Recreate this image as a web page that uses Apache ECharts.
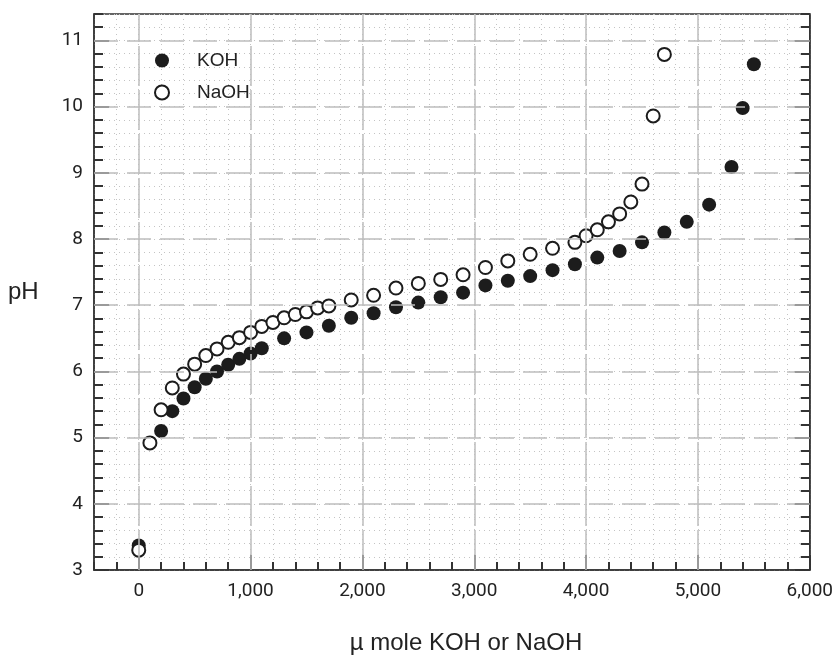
<!DOCTYPE html>
<html>
<head>
<meta charset="utf-8">
<script src="https://cdn.jsdelivr.net/npm/echarts@6/dist/echarts.min.js"></script>
<style>
html,body{margin:0;padding:0;background:#fff;}
#chart{width:836px;height:655px;}
</style>
</head>
<body>
<div id="chart"></div>
<script>
// ---- data ----
const kohX = [0, 200, 300, 400, 500, 600, 700, 800, 900, 1000, 1100, 1300, 1500, 1700, 1900, 2100, 2300, 2500, 2700, 2900, 3100, 3300, 3500, 3700, 3900, 4100, 4300, 4500, 4700, 4900, 5100, 5300, 5400, 5500];
const kohY = [3.37, 5.10, 5.40, 5.59, 5.76, 5.89, 6.00, 6.10, 6.19, 6.27, 6.35, 6.50, 6.59, 6.69, 6.81, 6.88, 6.97, 7.04, 7.12, 7.19, 7.30, 7.37, 7.44, 7.53, 7.62, 7.72, 7.82, 7.95, 8.10, 8.26, 8.52, 9.09, 9.98, 10.64];
const naohX = [0, 100, 200, 300, 400, 500, 600, 700, 800, 900, 1000, 1100, 1200, 1300, 1400, 1500, 1600, 1700, 1900, 2100, 2300, 2500, 2700, 2900, 3100, 3300, 3500, 3700, 3900, 4000, 4100, 4200, 4300, 4400, 4500, 4600, 4700];
const naohY = [3.30, 4.92, 5.42, 5.75, 5.96, 6.11, 6.24, 6.34, 6.44, 6.51, 6.59, 6.68, 6.74, 6.81, 6.86, 6.90, 6.96, 6.99, 7.08, 7.15, 7.26, 7.33, 7.39, 7.46, 7.57, 7.67, 7.77, 7.86, 7.95, 8.05, 8.14, 8.26, 8.38, 8.56, 8.83, 9.86, 10.79];
const xMajorTicks = [0, 1000, 2000, 3000, 4000, 5000, 6000];
const yMajorTicks = [3, 4, 5, 6, 7, 8, 9, 10, 11];
const seriesNames = ['KOH', 'NaOH'];
const xTitle = 'µ mole KOH or NaOH';
const yTitle = 'pH';

const zip = (xs, ys) => xs.map((x, i) => [x, ys[i]]);
const axisColor = '#333';
const fmtX = v => v.toLocaleString('en-US');

const chart = echarts.init(document.getElementById('chart'), null, {renderer: 'canvas'});

const minorSplit = {show: true, lineStyle: {color: '#c4c4c4', type: [1, 4], width: 1}};
const tickLab = {fontFamily: 'Roboto', fontSize: 19, color: '#222'};

chart.setOption({
  animation: false,
  backgroundColor: '#fff',
  grid: {left: 94, right: 23, top: 14, bottom: 85, show: true, borderColor: axisColor, borderWidth: 1.5, backgroundColor: 'transparent'},
  legend: {
    data: seriesNames, orient: 'vertical', left: 154, top: 51, padding: 0, itemGap: 13,
    itemWidth: 14, itemHeight: 14,
    textStyle: {fontFamily: 'Liberation Sans', fontSize: 19, color: '#222', padding: [0, 0, 0, 23], lineHeight: 19}
  },
  xAxis: [
    {type: 'value', min: -400, max: 6000, interval: 200, position: 'bottom',
     axisLine: {show: true, onZero: false, lineStyle: {color: axisColor, width: 1.5}},
     axisTick: {show: true, inside: true, length: 8, lineStyle: {color: axisColor, width: 2}},
     axisLabel: {show: false}, splitLine: minorSplit},
    {type: 'value', min: -400, max: 6000, position: 'bottom',
     axisLine: {show: false, onZero: false},
     axisTick: {show: true, inside: true, length: 15, customValues: xMajorTicks, lineStyle: {color: axisColor, width: 2}},
     axisLabel: Object.assign({show: true, margin: 12, customValues: xMajorTicks, formatter: fmtX}, tickLab),
     splitLine: {show: false}}
  ],
  yAxis: [
    {type: 'value', min: 3, max: 11.4, interval: 0.2, position: 'left',
     axisLine: {show: true, onZero: false, lineStyle: {color: axisColor, width: 1.5}},
     axisTick: {show: true, inside: true, length: 9, lineStyle: {color: axisColor, width: 2}},
     axisLabel: {show: false}, splitLine: minorSplit},
    {type: 'value', min: 3, max: 11.4, position: 'left',
     axisLine: {show: false, onZero: false},
     axisTick: {show: true, inside: true, length: 15, customValues: yMajorTicks, lineStyle: {color: axisColor, width: 2}},
     axisLabel: Object.assign({show: true, margin: 11, customValues: yMajorTicks}, tickLab),
     splitLine: {show: false}},
    {type: 'value', min: 3, max: 11.4, interval: 0.2, position: 'right',
     axisLine: {show: true, onZero: false, lineStyle: {color: axisColor, width: 1.5}},
     axisTick: {show: true, inside: true, length: 9, lineStyle: {color: axisColor, width: 2}},
     axisLabel: {show: false}, splitLine: {show: false}},
    {type: 'value', min: 3, max: 11.4, position: 'right',
     axisLine: {show: false, onZero: false},
     axisTick: {show: true, inside: true, length: 15, customValues: yMajorTicks, lineStyle: {color: axisColor, width: 2}},
     axisLabel: {show: false}, splitLine: {show: false}}
  ],
  graphic: [
    {type: 'text', left: 8, top: 280, style: {text: yTitle, fontFamily: 'Liberation Sans', fontSize: 24, fill: '#222'}},
    {type: 'text', x: 466, y: 643, style: {text: xTitle, fontFamily: 'Liberation Sans', fontSize: 24, fill: '#222', align: 'center', verticalAlign: 'middle'}}
  ],
  series: [
    {name: 'grid-major', type: 'scatter', data: [], xAxisIndex: 0, yAxisIndex: 0, z: 1, silent: true,
     markLine: {silent: true, symbol: 'none', label: {show: false}, animation: false,
       data: [
         ...xMajorTicks.slice(0, -1).map(v => ({xAxis: v, lineStyle: {color: '#bdbdbd', width: 1.5, type: [40, 4]}})),
         ...yMajorTicks.slice(1).map(v => ({yAxis: v, lineStyle: {color: '#bdbdbd', width: 1.5, type: [24, 9]}}))
       ]}},
    {name: 'KOH', type: 'scatter', xAxisIndex: 0, yAxisIndex: 0, z: 3, symbol: 'circle', symbolSize: 14,
     itemStyle: {color: '#1c1c1c', opacity: 1}, data: zip(kohX, kohY)},
    {name: 'NaOH', type: 'scatter', xAxisIndex: 0, yAxisIndex: 0, z: 4, symbol: 'circle', symbolSize: 13,
     itemStyle: {color: '#ffffff', borderColor: '#1c1c1c', borderWidth: 2, opacity: 1}, data: zip(naohX, naohY)}
  ]
});
</script>
</body>
</html>
